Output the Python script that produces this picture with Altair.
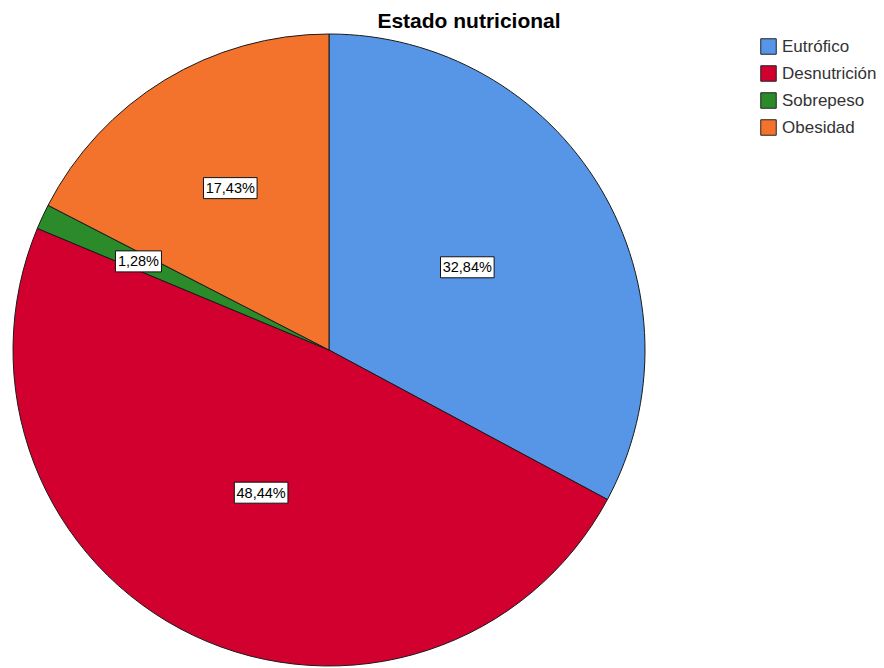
import altair as alt
import pandas as pd
import numpy as np

# ---- data ----
categories = ["Eutrófico", "Desnutrición", "Sobrepeso", "Obesidad"]
percentages = [32.84, 48.44, 1.28, 17.43]
labels = ["32,84%", "48,44%", "1,28%", "17,43%"]
colors = ["#5796E6", "#D2002F", "#2B8B2B", "#F4732C"]

# ---- layout (label distance from centre, as a fraction of the radius) ----
label_radius = np.array([0.51, 0.50, 0.665, 0.60])

R = 316
df = pd.DataFrame({"cat": categories, "pct": percentages, "label": labels,
                   "order": list(range(len(categories)))})
total = df["pct"].sum()
cum = df["pct"].cumsum()
mid = (cum - df["pct"] / 2) / total * 2 * np.pi
df["lx"] = label_radius * np.sin(mid)
df["ly"] = label_radius * np.cos(mid)

# white label boxes as custom symbol paths (unit = sqrt(size)/2 px)
BOX_SIZE = 2916  # -> unit 27 px
unit = np.sqrt(BOX_SIZE) / 2
def box_path(text):
    hw = (7.6 * len(text) + 8) / 2 / unit
    hh = 10.5 / unit
    return f"M{-hw:.3f},{-hh:.3f}L{hw:.3f},{-hh:.3f}L{hw:.3f},{hh:.3f}L{-hw:.3f},{hh:.3f}Z"
df["box"] = [box_path(t) for t in df["label"]]

color_scale = alt.Scale(domain=categories, range=colors)

arcs = alt.Chart(df).mark_arc(radius=R, stroke="#1a1a1a", strokeWidth=1).encode(
    theta=alt.Theta("pct:Q", stack=True),
    color=alt.Color("cat:N", scale=color_scale, sort=categories, title=None,
                    legend=alt.Legend(orient="none", legendX=747, legendY=4,
                                      symbolType="square", symbolSize=240,
                                      symbolStrokeColor="#222222", symbolStrokeWidth=1,
                                      symbolOpacity=1,
                                      labelFont="Liberation Sans", labelFontSize=17,
                                      labelColor="#333333", labelOffset=5,
                                      rowPadding=6, padding=0)),
    order=alt.Order("order:Q"),
)

xs = alt.Scale(domain=[-1, 1])
ys = alt.Scale(domain=[-1, 1])

boxes = alt.Chart(df).mark_point(filled=True, fill="white", stroke="#111111",
                                 strokeWidth=1, opacity=1, size=BOX_SIZE).encode(
    x=alt.X("lx:Q", scale=xs, axis=None),
    y=alt.Y("ly:Q", scale=ys, axis=None),
    shape=alt.Shape("box:N", scale=None, legend=None),
)

texts = alt.Chart(df).mark_text(font="Liberation Sans", fontSize=14.5, color="black",
                                align="center", baseline="middle", dy=1).encode(
    x=alt.X("lx:Q", scale=xs, axis=None),
    y=alt.Y("ly:Q", scale=ys, axis=None),
    text="label:N",
)

chart = alt.layer(arcs, boxes, texts).properties(
    width=2 * R, height=2 * R,
    autosize="none",
    padding={"left": 13, "top": 34, "right": 239, "bottom": 2},
    title=alt.Title("Estado nutricional", font="Liberation Sans", fontSize=21,
                    fontWeight="bold", color="black", anchor="middle", dx=140,
                    dy=23, baseline="alphabetic", offset=6, frame="group"),
).configure(background="white", view=alt.ViewConfig(stroke=None))

chart.save("out.html", embed_options={"renderer": "svg", "actions": False})
